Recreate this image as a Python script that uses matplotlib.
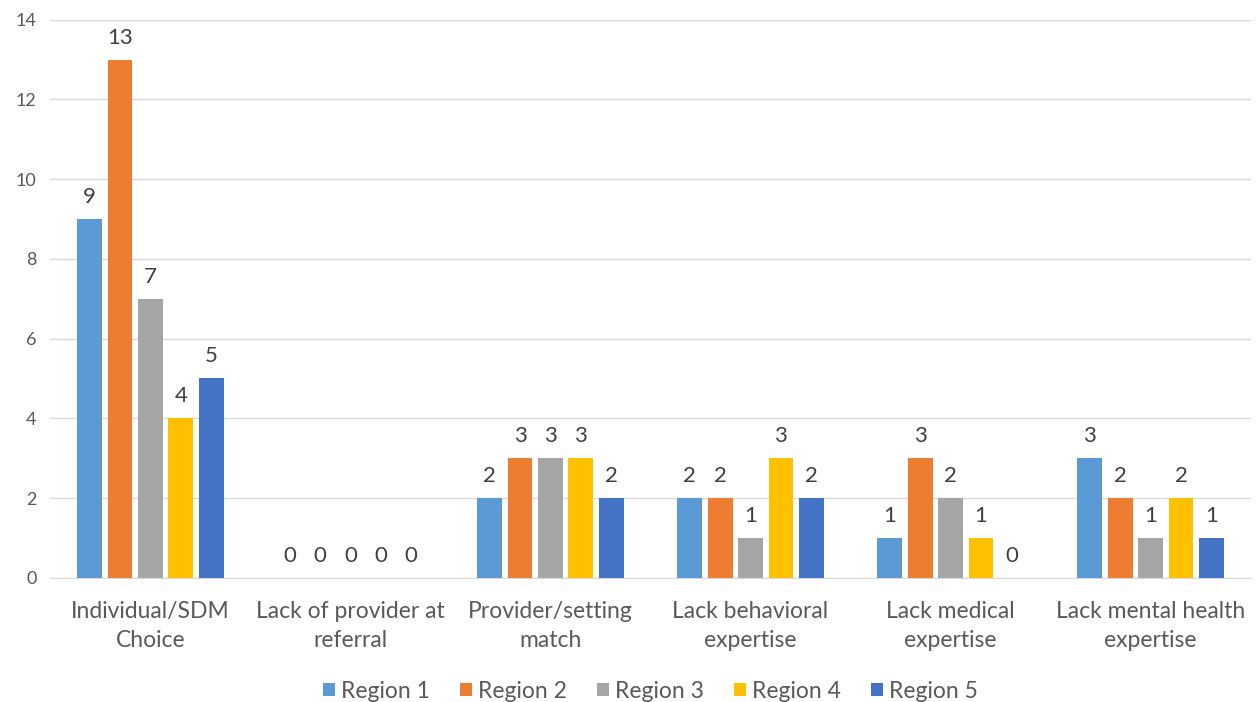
import numpy as np
import matplotlib
matplotlib.use("Agg")
import matplotlib.pyplot as plt

categories = ["Individual/SDM\nChoice", "Lack of provider at\nreferral",
              "Provider/setting\nmatch", "Lack behavioral\nexpertise",
              "Lack medical\nexpertise", "Lack mental health\nexpertise"]
series_names = ["Region 1", "Region 2", "Region 3", "Region 4", "Region 5"]
region1 = [9, 0, 2, 2, 1, 3]
region2 = [13, 0, 3, 2, 3, 2]
region3 = [7, 0, 3, 1, 2, 1]
region4 = [4, 0, 3, 3, 1, 2]
region5 = [5, 0, 2, 2, 0, 1]
colors = ["#5B9BD5", "#ED7D31", "#A5A5A5", "#FFC000", "#4472C4"]

plt.rcParams['font.family'] = ['Lato', 'DejaVu Sans']
text_col = "#595959"

fig = plt.figure(figsize=(12.57, 7.02), dpi=100)
ax = fig.add_axes([0.040, 0.177, 0.955, 0.795])

x = np.arange(len(categories))
pitch = 0.152
width = 0.124
all_series = [region1, region2, region3, region4, region5]
for i, (vals, name, c) in enumerate(zip(all_series, series_names, colors)):
    pos = x + (i - 2) * pitch
    ax.bar(pos, vals, width, color=c, label=name, zorder=3)
    for p, v in zip(pos, vals):
        ax.text(p, v + 0.3, str(v), ha='center', va='bottom',
                fontsize=16, color="#404040")

ax.set_xlim(-0.5, len(categories) - 0.5)
ax.set_ylim(0, 14)
ax.set_yticks(range(0, 15, 2))
ax.yaxis.grid(True, color="#D9D9D9", linewidth=1, zorder=0)
for s in ["top", "right", "left"]:
    ax.spines[s].set_visible(False)
ax.spines["bottom"].set_color("#D9D9D9")
ax.tick_params(axis='both', length=0, colors=text_col)
ax.tick_params(axis='y', labelsize=13, pad=10)
ax.set_xticks(x)
ax.set_xticklabels(categories, fontsize=16.5, color=text_col, linespacing=1.45)
ax.tick_params(axis='x', pad=17)

leg = ax.legend(loc='center', bbox_to_anchor=(0.5, -0.203), ncol=5,
                frameon=False, fontsize=16.5, handlelength=0.55, handleheight=0.55,
                handletextpad=0.25, columnspacing=1.3)
for t in leg.get_texts():
    t.set_color(text_col)

fig.savefig("out.png", dpi=100)
